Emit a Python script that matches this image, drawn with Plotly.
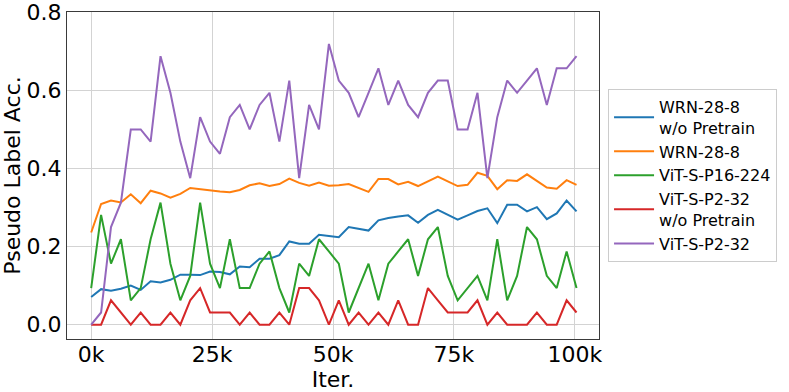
import plotly.graph_objects as go

# iterations: 50 evaluations, every 2048 steps
STEP = 2048
N_POINTS = 50

wrn_scratch = [0.071, 0.091, 0.087, 0.092, 0.100, 0.089, 0.111, 0.108, 0.115, 0.128,
               0.128, 0.127, 0.136, 0.135, 0.129, 0.149, 0.147, 0.169, 0.169, 0.178,
               0.213, 0.207, 0.207, 0.230, 0.227, 0.224, 0.250, 0.246, 0.241, 0.267,
               0.273, 0.277, 0.280, 0.261, 0.281, 0.294, 0.281, 0.269, 0.280, 0.291,
               0.298, 0.260, 0.307, 0.307, 0.290, 0.301, 0.270, 0.285, 0.318, 0.290]

wrn = [0.236, 0.309, 0.318, 0.313, 0.334, 0.311, 0.343, 0.336, 0.325, 0.335,
       0.350, 0.347, 0.343, 0.341, 0.339, 0.345, 0.357, 0.362, 0.355, 0.360,
       0.374, 0.363, 0.356, 0.364, 0.356, 0.357, 0.360, 0.351, 0.340, 0.373,
       0.373, 0.359, 0.366, 0.355, 0.367, 0.379, 0.367, 0.355, 0.358, 0.389,
       0.381, 0.347, 0.370, 0.368, 0.385, 0.368, 0.351, 0.348, 0.370, 0.358]

# the ViT curves move in steps of 1/32
vit_p16_32nds = [3, 9, 5, 7, 2, 3, 7, 10, 5, 2,
                 4, 10, 5, 3, 7, 3, 3, 5, 6, 3,
                 1, 5, 4, 7, 6, 5, 1, 3, 5, 2,
                 5, 6, 7, 4, 7, 8, 4, 2, 3, 4,
                 2, 7, 2, 4, 8, 7, 4, 3, 6, 3]

vit_p2_scratch_32nds = [0, 0, 2, 1, 0, 1, 0, 0, 1, 0,
                        2, 3, 1, 1, 1, 0, 1, 0, 0, 1,
                        0, 3, 3, 2, 0, 2, 0, 1, 0, 1,
                        0, 2, 0, 0, 3, 2, 1, 1, 1, 2,
                        0, 1, 0, 0, 0, 1, 0, 0, 2, 1]

vit_p2_32nds = [0, 1, 8, 10, 16, 16, 15, 22, 19, 15,
                12, 17, 15, 14, 17, 18, 16, 18, 19, 15,
                20, 12, 18, 16, 23, 20, 19, 17, 19, 21,
                18, 20, 18, 17, 19, 20, 20, 16, 16, 19,
                12, 17, 20, 19, 20, 21, 18, 21, 21, 22]

series_names = ['WRN-28-8<br>w/o Pretrain', 'WRN-28-8', 'ViT-S-P16-224',
                'ViT-S-P2-32<br>w/o Pretrain', 'ViT-S-P2-32']
colors = ['#1f77b4', '#ff7f0e', '#2ca02c', '#d62728', '#9467bd']

x_ticks = [0, 25000, 50000, 75000, 100000]
x_tick_labels = ['0k', '25k', '50k', '75k', '100k']
y_ticks = [0.0, 0.2, 0.4, 0.6, 0.8]
y_tick_labels = ['0.0', '0.2', '0.4', '0.6', '0.8']

iters = [i * STEP for i in range(N_POINTS)]
series = [wrn_scratch, wrn,
          [v / 32 for v in vit_p16_32nds],
          [v / 32 for v in vit_p2_scratch_32nds],
          [v / 32 for v in vit_p2_32nds]]

FONT = 'DejaVu Sans'

fig = go.Figure()
for name, ys, c in zip(series_names, series, colors):
    fig.add_trace(go.Scatter(
        x=iters, y=ys, mode='lines', name=name,
        line=dict(color=c, width=2)
    ))

axis_style = dict(
    showgrid=True, gridcolor='#d3d3d3', gridwidth=1,
    showline=True, linecolor='#3a3a3a', linewidth=1, mirror=True,
    zeroline=False, ticks='', automargin=False,
    ticklabeloverflow='allow',
    tickfont=dict(family=FONT, size=22, color='black'),
)

fig.update_xaxes(
    range=[-5000, 105000], tickvals=x_ticks, ticktext=x_tick_labels,
    ticklabelstandoff=-4,
    title=dict(text='Iter.', font=dict(family=FONT, size=22, color='black'), standoff=0),
    **axis_style
)
fig.update_yaxes(
    range=[-0.0366, 0.8005], tickvals=y_ticks, ticktext=y_tick_labels,
    title=dict(text='Pseudo Label Acc.', font=dict(family=FONT, size=22, color='black'), standoff=6),
    **axis_style
)

fig.update_layout(
    width=789, height=392,
    autosize=False,
    margin=dict(l=67, r=187, t=12, b=53),
    plot_bgcolor='white', paper_bgcolor='white',
    showlegend=True,
    legend=dict(
        x=1.017, y=0.765, xanchor='left', yanchor='top',
        font=dict(family=FONT, size=16, color='black'),
        bgcolor='white', bordercolor='#cccccc', borderwidth=1,
        itemwidth=40,
    ),
    font=dict(family=FONT),
)

# drop the default page margin so the figure sits at the window's corner
fig.write_html("out.html", config={'displayModeBar': False},
               post_script="document.body.style.margin='0px';")
